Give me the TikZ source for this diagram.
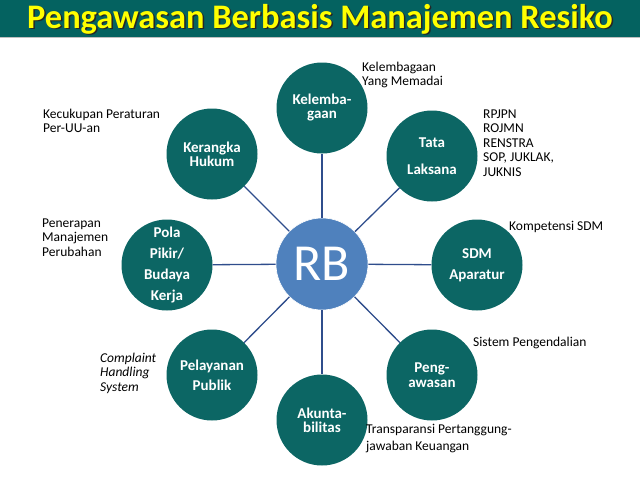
\documentclass[tikz,border=0pt]{standalone}
\usepackage{fontspec}
\setmainfont{Carlito}
\definecolor{barteal}{RGB}{4,98,96}
\definecolor{circteal}{RGB}{12,102,100}
\definecolor{rbblue}{RGB}{79,129,189}
\definecolor{spoke}{RGB}{47,77,140}
\definecolor{ttlyellow}{RGB}{255,255,0}
\begin{document}
\begin{tikzpicture}[x=1pt,y=-1pt,
  outer/.style={circle,fill=circteal,minimum size=91pt,inner sep=0pt,text=white,align=center,font=\bfseries\fontsize{15}{14}\selectfont},
  hub/.style={circle,fill=rbblue,draw=white,line width=0.6pt,minimum size=92pt,inner sep=0pt,text=white,font=\fontsize{52}{54}\selectfont},
  note/.style={anchor=base west,inner sep=0pt,align=left,font=\fontsize{13.5}{14.5}\selectfont},
  spokeline/.style={draw=spoke,line width=1.3pt}]
\useasboundingbox (0,0) rectangle (640,480);
\fill[white] (0,0) rectangle (640,480);
% title bar
\fill[barteal] (0,0) rectangle (640,37);
\draw[gray!50,line width=0.8pt] (0,37.5) -- (640,37.5);
\node[inner sep=0pt,text=black!85,font=\bfseries\fontsize{34.4}{36}\selectfont] (titleshadow) at (321.5,20.5) {Pengawasan Berbasis Manajemen Resiko};
\node[inner sep=0pt,text=ttlyellow,font=\bfseries\fontsize{34.4}{36}\selectfont] (title) at (320,19) {Pengawasan Berbasis Manajemen Resiko};
% circles
\coordinate (c) at (322,264);
\node[outer] (kel) at (322,108) {Kelemba-\\gaan};
\node[outer,font=\bfseries\fontsize{15}{27}\selectfont] (tata) at (432,156) {Tata\\Laksana};
\node[outer,font=\bfseries\fontsize{15}{21}\selectfont] (sdm) at (477,265) {SDM\\Aparatur};
\node[outer,font=\bfseries\fontsize{15}{15}\selectfont] (peng) at (432,375) {Peng-\\awasan};
\node[outer] (akun) at (322,420) {Akunta-\\bilitas};
\node[outer,font=\bfseries\fontsize{15}{20}\selectfont] (pel) at (212,375) {Pelayanan\\Publik};
\node[outer,font=\bfseries\fontsize{15}{20.7}\selectfont] (pola) at (167,265) {Pola\\Pikir/\\Budaya\\Kerja};
\node[outer] (ker) at (212,154) {Kerangka\\Hukum};
\node[hub] (rb) at (c) {RB};
% spokes
\foreach \n in {kel,tata,sdm,peng,akun,pel,pola,ker}{
  \path[spokeline] (rb) -- (\n);
}
% notes (base anchor = baseline of last line)
\node[note] (n1) at (362,85.5) {Kelembagaan\\Yang Memadai};
\node[note] (n2) at (43,132.5) {Kecukupan Peraturan\\Per-UU-an};
\node[note] (n3) at (483,176) {RPJPN\\ROJMN\\RENSTRA\\SOP, JUKLAK,\\JUKNIS};
\node[note] (n4) at (509,230) {Kompetensi SDM};
\node[note] (n5) at (42,256) {Penerapan\\Manajemen\\Perubahan};
\node[note,font=\itshape\fontsize{13.5}{14.5}\selectfont] (n6) at (100,391) {Complaint\\Handling\\System};
\node[note] (n7) at (473,346) {Sistem Pengendalian};
\node[note,font=\fontsize{13.5}{16.5}\selectfont] (n8) at (366,450) {Transparansi Pertanggung-\\jawaban Keuangan};
\end{tikzpicture}
\end{document}
